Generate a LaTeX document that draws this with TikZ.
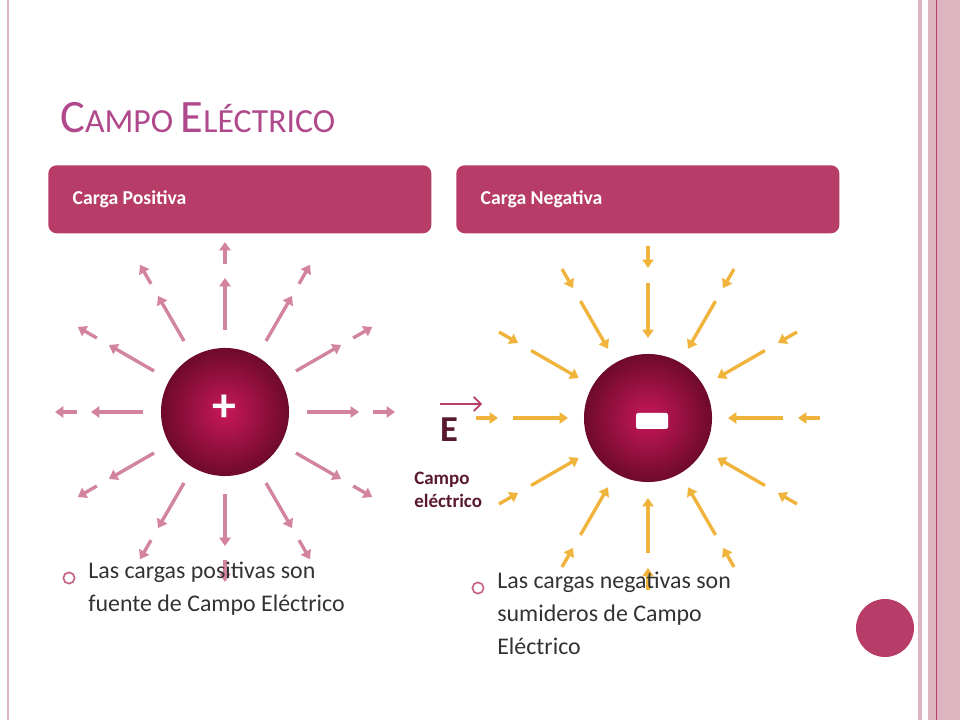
\documentclass[tikz,border=0pt]{standalone}
\usepackage{fontspec}
\setmainfont{Carlito}
\usetikzlibrary{arrows.meta}
\definecolor{rose}{HTML}{B83C68}
\definecolor{palerose}{HTML}{DDB5C0}
\definecolor{titlepink}{HTML}{B0488C}
\definecolor{wine}{HTML}{5A1A2E}
\definecolor{fieldpink}{HTML}{D2849C}
\definecolor{fieldgold}{HTML}{F0B43C}
\definecolor{ballin}{HTML}{C8185A}
\definecolor{ballout}{HTML}{6E0A2A}
\tikzset{
  header/.style={fill=rose, rounded corners=6pt, minimum width=9.575cm, minimum height=1.7cm, anchor=north west, inner sep=0pt},
  headtext/.style={text=white, font=\bfseries\fontsize{14}{16}\selectfont, anchor=west},
  ball/.style={circle, minimum size=3.2cm, inner color=ballin, outer color=ballout},
  fieldline/.style={line width=2.4pt, -{Triangle[length=6pt,width=8pt]}},
  bullet/.style={circle, draw=rose!80, line width=1.2pt, minimum size=8pt, inner sep=0pt},
  bodytext/.style={anchor=north west, align=left, text=black!80, font=\fontsize{17}{23.5}\selectfont},
}
\begin{document}
\begin{tikzpicture}[x=0.025cm, y=-0.025cm]
    \useasboundingbox (0,0) rectangle (960,720);
    \fill[white] (0,0) rectangle (960,720);
    % slide border
    \draw[palerose, line width=1pt] (8,0) -- (8,720);
    \fill[palerose] (918,0) rectangle (922,720);
    \fill[palerose] (928,0) rectangle (960,720);
    \draw[rose, line width=0.6pt] (936,0) -- (936,720);
    \fill[rose] (885,628) ellipse (29 and 29);
    % title
    \node[anchor=base west, text=titlepink, inner sep=0pt] (title) at (60,133)
        {\fontsize{33}{36}\selectfont C\fontsize{24}{28}\selectfont AMPO \fontsize{33}{36}\selectfont E\fontsize{24}{28}\selectfont LÉCTRICO};
    % headers
    \node[header] (hpos) at (48,165) {};
    \node[header] (hneg) at (456,165) {};
    \node[headtext] at ([xshift=14pt]hpos.west) {Carga Positiva};
    \node[headtext] at ([xshift=14pt]hneg.west) {Carga Negativa};
    % charges
    \node[ball] (pos) at (225,412) {};
    \node[ball] (neg) at (648,418) {};
    \node[text=white, font=\bfseries\fontsize{34}{34}\selectfont] at (224,408) {+};
    \fill[white, rounded corners=1.5pt] (636,413) rectangle (668,429);
    % field lines
    \foreach \a in {0,30,...,330} {
        \draw[fieldpink, fieldline] (pos) ++(\a:82) -- ++(\a:52);
        \draw[fieldpink, fieldline] (pos) ++(\a:148) -- ++(\a:22);
        \draw[fieldgold, fieldline] (neg) ++(\a:135) -- ++(\a:-55);
        \draw[fieldgold, fieldline] (neg) ++(\a:172) -- ++(\a:-22);
    }
    % field label
    \node[text=wine, font=\bfseries\fontsize{26}{26}\selectfont] (E) at (449,430) {E};
    \draw[rose, line width=1.2pt, -{Straight Barb[length=5pt]}] (440,404) -- (482,404);
    \node[text=wine, font=\bfseries\fontsize{13.5}{16}\selectfont, align=left, anchor=north west, inner sep=0pt] (lbl) at (414,472) {Campo\\eléctrico};
    % bullets
    \node[bullet] (b1) at (69,578) {};
    \node[bodytext, inner sep=0pt] (t1) at (88,562) {Las cargas positivas son\\fuente de Campo Eléctrico};
    \node[bullet] (b2) at (478,588) {};
    \node[bodytext, inner sep=0pt] (t2) at (497,572) {Las cargas negativas son\\sumideros de Campo\\Eléctrico};
\end{tikzpicture}
\end{document}
